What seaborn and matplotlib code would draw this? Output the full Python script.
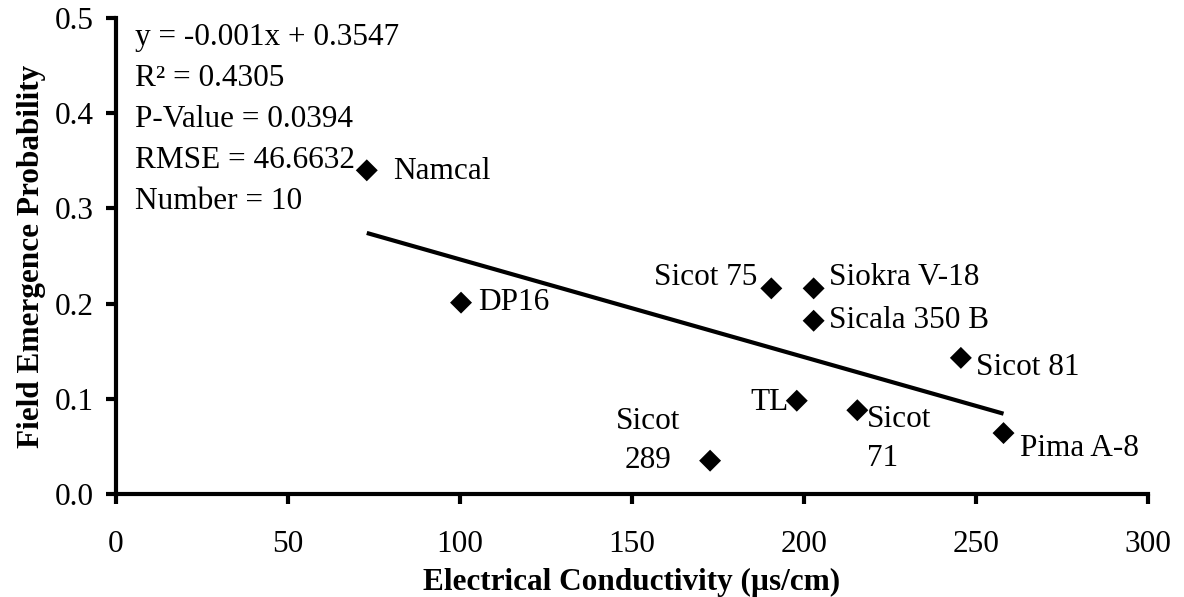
import numpy as np
import pandas as pd
import matplotlib
matplotlib.use("Agg")
import matplotlib.pyplot as plt
import seaborn as sns

# ---- data ----
varieties = ["Namcal", "DP16", "Sicot 75", "Siokra V-18", "Sicala 350 B",
             "Sicot 81", "TL", "Sicot 71", "Pima A-8", "Sicot 289"]
point_labels = ["Namcal", "DP16", "Sicot 75", "Siokra V-18", "Sicala 350 B",
                "Sicot 81", "TL", "Sicot\n71", "Pima A-8", "Sicot\n289"]
conductivity = [72.9, 100.3, 190.5, 202.8, 202.8, 245.6, 197.9, 215.5, 258.0, 172.7]
emergence = [0.340, 0.201, 0.216, 0.216, 0.182, 0.143, 0.098, 0.088, 0.064, 0.035]
x_ticks = [0, 50, 100, 150, 200, 250, 300]
y_ticks = [0.0, 0.1, 0.2, 0.3, 0.4, 0.5]
y_tick_labels = ["0.0", "0.1", "0.2", "0.3", "0.4", "0.5"]
stats_lines = ["y = -0.001x + 0.3547", "R\u00b2 = 0.4305", "P-Value = 0.0394",
               "RMSE = 46.6632", "Number = 10"]

df = pd.DataFrame({"variety": varieties, "ec": conductivity, "fep": emergence})

# label placement (offset points, horizontal alignment)
label_offsets = {
    "Namcal": ((19, -1), "left"),
    "DP16": ((12, 0), "left"),
    "Sicot 75": ((-10, 8), "right"),
    "Siokra V-18": ((11, 8), "left"),
    "Sicala 350 B": ((11, 0), "left"),
    "Sicot 81": ((11, -7), "left"),
    "TL": ((-6, -1), "right"),
    "Sicot 71": ((7, -21), "left"),
    "Pima A-8": ((12, -11), "left"),
    "Sicot 289": ((-44.5, 14), "center"),
}

sns.set_theme(style="white")
plt.rcParams["font.family"] = ["Liberation Serif", "DejaVu Serif"]

FS = 22.5
fig = plt.figure(figsize=(11.84, 5.97), dpi=100)
ax = fig.add_axes([116 / 1184, 1 - 494 / 597, (1148 - 116) / 1184, (494 - 18) / 597])

sns.regplot(data=df, x="ec", y="fep", scatter=False, ci=None, truncate=True,
            color="black", line_kws={"linewidth": 3.0, "solid_capstyle": "butt"}, ax=ax)
sns.scatterplot(data=df, x="ec", y="fep", marker="D", color="black", s=125,
                edgecolor="none", ax=ax, zorder=3)

for name, lab, xv, yv in zip(varieties, point_labels, conductivity, emergence):
    (dx, dy), ha = label_offsets[name]
    ax.annotate(lab, (xv, yv), xytext=(dx, dy), textcoords="offset points",
                ha=ha, va="center", fontsize=FS, color="black",
                multialignment="left" if ha != "center" else "center",
                linespacing=1.45)

ax.text(0.018, 0.99, "\n".join(stats_lines), transform=ax.transAxes,
        ha="left", va="top", fontsize=FS, color="black", linespacing=1.55)

ax.set_xlim(0, 300)
ax.set_ylim(0, 0.5)
ax.set_xticks(x_ticks)
ax.set_xticklabels([str(t) for t in x_ticks])
ax.set_yticks(y_ticks)
ax.set_yticklabels(y_tick_labels)
ax.tick_params(axis="both", which="major", direction="out", length=7, width=3,
               color="black", labelsize=FS, labelcolor="black", bottom=True, left=True)
ax.tick_params(axis="x", pad=19)
ax.tick_params(axis="y", pad=9)

for side in ["top", "right"]:
    ax.spines[side].set_visible(False)
for side in ["left", "bottom"]:
    ax.spines[side].set_visible(True)
    ax.spines[side].set_color("black")
    ax.spines[side].set_linewidth(3)
ax.grid(False)

ax.set_xlabel("Electrical Conductivity (µs/cm)", fontsize=FS, fontweight="bold",
              color="black", labelpad=6)
ax.set_ylabel("Field Emergence Probability", fontsize=FS, fontweight="bold",
              color="black", labelpad=6)

fig.savefig("out.png", dpi=100, facecolor="white")
